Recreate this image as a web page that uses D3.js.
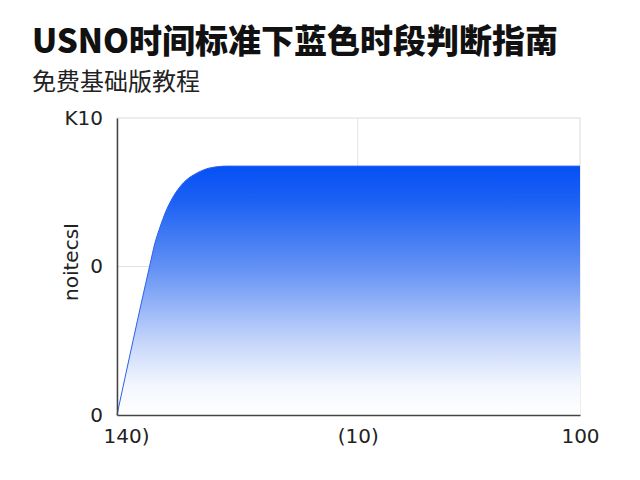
<!DOCTYPE html>
<html>
<head>
<meta charset="utf-8">
<script src="https://cdn.jsdelivr.net/npm/d3@7"></script>
<style>
  html, body { margin: 0; padding: 0; background: #fff; }
  svg { display: block; }
</style>
</head>
<body>
<svg id="chart" width="640" height="480"></svg>
<script>
// curve
let xValues = [0, 3.5, 7.1, 8.2, 9.3, 10.4, 12.1, 14.3, 17.3, 20.1, 23.8, 40, 60, 80, 100];
let yValues = [0, 25.3, 50.5, 57.9, 63.3, 68.0, 73.4, 78.1, 81.5, 83.2, 83.8, 83.8, 83.8, 83.8, 83.8];

let xTickValues = [0, 52, 100];
let xTickLabels = ["140)", "(10)", "100"];
let yTickValues = [0, 50, 100];
let yTickLabels = ["0", "0", "K10"];

let titleText = "USNO时间标准下蓝色时段判断指南";
let subtitleText = "免费基础版教程";
let yTitle = "noitecsI";

let data = xValues.map((x, i) => ({x: x, y: yValues[i]}));

let svg = d3.select('#chart');
let margin = {top: 118, left: 117, bottom: 65, right: 60};
let width = 640;
let height = 480;

let xScale = d3.scaleLinear().domain([0, 100]).range([margin.left, width - margin.right]);
let yScale = d3.scaleLinear().domain([0, 100]).range([height - margin.bottom, margin.top]);

// titles
svg.append("text")
    .attr("x", 32).attr("y", 53)
    .style("font-family", "'Noto Sans CJK SC', sans-serif")
    .style("font-weight", "900")
    .style("font-size", "33px")
    .style("fill", "#111")
    .text(titleText);

svg.append("text")
    .attr("x", 32).attr("y", 90)
    .style("font-family", "'Noto Sans CJK SC', sans-serif")
    .style("font-size", "24px")
    .style("fill", "#222")
    .text(subtitleText);

// gradient for the area
let grad = svg.append("defs").append("linearGradient")
    .attr("id", "blueFade")
    .attr("gradientUnits", "userSpaceOnUse")
    .attr("x1", 0).attr("x2", 0)
    .attr("y1", yScale(84)).attr("y2", yScale(0));
grad.append("stop").attr("offset", "0").attr("stop-color", "#0550f5");
grad.append("stop").attr("offset", "0.15").attr("stop-color", "#1e62f4");
grad.append("stop").attr("offset", "0.42").attr("stop-color", "#6693f4");
grad.append("stop").attr("offset", "0.7").attr("stop-color", "#c3d4fa");
grad.append("stop").attr("offset", "0.88").attr("stop-color", "#f3f6fe");
grad.append("stop").attr("offset", "1").attr("stop-color", "#ffffff");

// frame and grid
let x0 = xScale(0), x1 = xScale(100), y0 = yScale(0), y1 = yScale(100);
svg.append("rect")
    .attr("x", x0).attr("y", y1)
    .attr("width", x1 - x0).attr("height", y0 - y1)
    .attr("fill", "none").attr("stroke", "#dcdcdc").attr("stroke-width", 1);

svg.append("line")
    .attr("x1", x0).attr("x2", x1)
    .attr("y1", yScale(50)).attr("y2", yScale(50))
    .attr("stroke", "#e2e2e2");
svg.append("line")
    .attr("x1", xScale(52)).attr("x2", xScale(52))
    .attr("y1", y1).attr("y2", y0)
    .attr("stroke", "#e2e2e2");

// area
let area = d3.area()
    .x(d => xScale(d.x))
    .y0(yScale(0))
    .y1(d => yScale(d.y))
    .curve(d3.curveMonotoneX);

svg.append("path")
    .datum(data)
    .attr("d", area)
    .attr("fill", "url(#blueFade)");

let line = d3.line()
    .x(d => xScale(d.x))
    .y(d => yScale(d.y))
    .curve(d3.curveMonotoneX);

svg.append("path")
    .datum(data)
    .attr("d", line)
    .attr("fill", "none")
    .attr("stroke", "#2a62ec")
    .attr("stroke-width", 1);

// axes
let xAxis = d3.axisBottom(xScale)
    .tickValues(xTickValues)
    .tickSize(0)
    .tickPadding(14)
    .tickFormat((d, i) => xTickLabels[i]);
let yAxis = d3.axisLeft(yScale)
    .tickValues(yTickValues)
    .tickSize(0)
    .tickPadding(14)
    .tickFormat((d, i) => yTickLabels[i]);

let gx = svg.append("g")
    .attr("transform", "translate(0," + y0 + ")")
    .call(xAxis);
let gy = svg.append("g")
    .attr("transform", "translate(" + x0 + ",0)")
    .call(yAxis);

[gx, gy].forEach(g => {
    g.select(".domain").attr("stroke", "#444").attr("stroke-width", 1.5);
    g.selectAll("text")
        .style("font-family", "'DejaVu Sans', sans-serif")
        .style("font-size", "20px")
        .style("fill", "#222");
});
gx.selectAll("text").filter((d, i) => i === 0).attr("dx", 9);

svg.append("text")
    .attr("transform", "translate(78,262) rotate(-90)")
    .style("text-anchor", "middle")
    .style("font-family", "'DejaVu Sans', sans-serif")
    .style("font-size", "20px")
    .style("fill", "#222")
    .text(yTitle);
</script>
</body>
</html>
